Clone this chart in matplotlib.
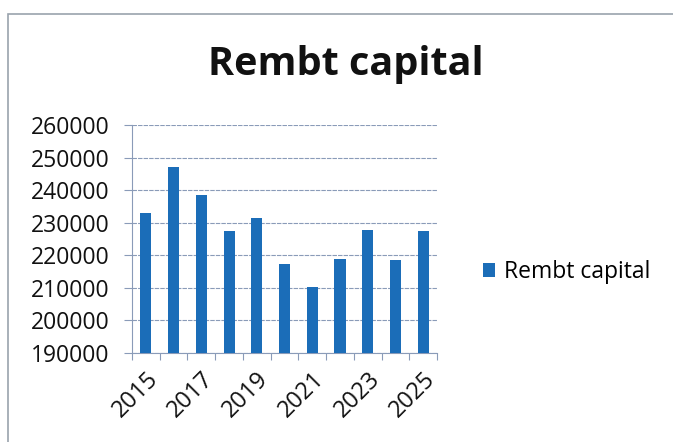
import numpy as np
import matplotlib.pyplot as plt
from matplotlib.patches import Rectangle

years = [2015, 2016, 2017, 2018, 2019, 2020, 2021, 2022, 2023, 2024, 2025]
rembt_capital = [233000, 247200, 238600, 227500, 231500, 217300, 210300, 218800, 227700, 218700, 227600]
y_ticks = [190000, 200000, 210000, 220000, 230000, 240000, 250000, 260000]

bar_color = '#1b6db8'
axis_color = '#8a9bb8'

plt.rcParams['font.family'] = ['Open Sans', 'DejaVu Sans']

fig = plt.figure(figsize=(6.73, 4.42), dpi=100)
# cadre du graphique (Excel)
fig.patches.append(Rectangle((8 / 673, -0.1), 1.2, 1 - 14 / 442 + 0.1, transform=fig.transFigure,
                             fill=False, edgecolor='#9aa3ad', linewidth=1.2))

ax = fig.add_axes([132 / 673, 1 - 353 / 442, (437 - 132) / 673, (353 - 125) / 442])
x = np.arange(len(years))
ax.bar(x, rembt_capital, width=0.4, color=bar_color, label='Rembt capital', zorder=3)

ax.set_ylim(190000, 260000)
ax.set_xlim(-0.5, len(years) - 0.5)
ax.set_yticks(y_ticks)
ax.set_yticklabels([str(v) for v in y_ticks], fontsize=16.5, color='#111111')
ax.yaxis.grid(True, color=axis_color, linewidth=0.8, linestyle=(0, (4, 1)), zorder=0)

# ticks entre les catégories, étiquettes une année sur deux
ax.set_xticks(np.arange(-0.5, len(years), 1.0), minor=False)
ax.set_xticklabels([])
ax.set_xticks(x[::2], minor=True)
ax.set_xticklabels([str(y) for y in years[::2]], minor=True, fontsize=17, color='#111111',
                   rotation=45, ha='right', rotation_mode='anchor')
ax.tick_params(axis='x', which='minor', length=0, pad=10)
ax.tick_params(axis='x', which='major', length=5, color=axis_color)
ax.tick_params(axis='y', length=6, color=axis_color, pad=10)

for s in ['top', 'right']:
    ax.spines[s].set_visible(False)
for s in ['left', 'bottom']:
    ax.spines[s].set_color(axis_color)

fig.text(346 / 673, 1 - 64 / 442, 'Rembt capital', fontsize=28.5, fontweight='bold',
         ha='center', va='center', color='#111111')

ax.legend(loc='center left', bbox_to_anchor=(462 / 673, 1 - 272 / 442),
          bbox_transform=fig.transFigure, frameon=False, fontsize=16.5,
          handlelength=0.55, handleheight=0.55, handletextpad=0.4)

fig.savefig('out.png', dpi=100)
